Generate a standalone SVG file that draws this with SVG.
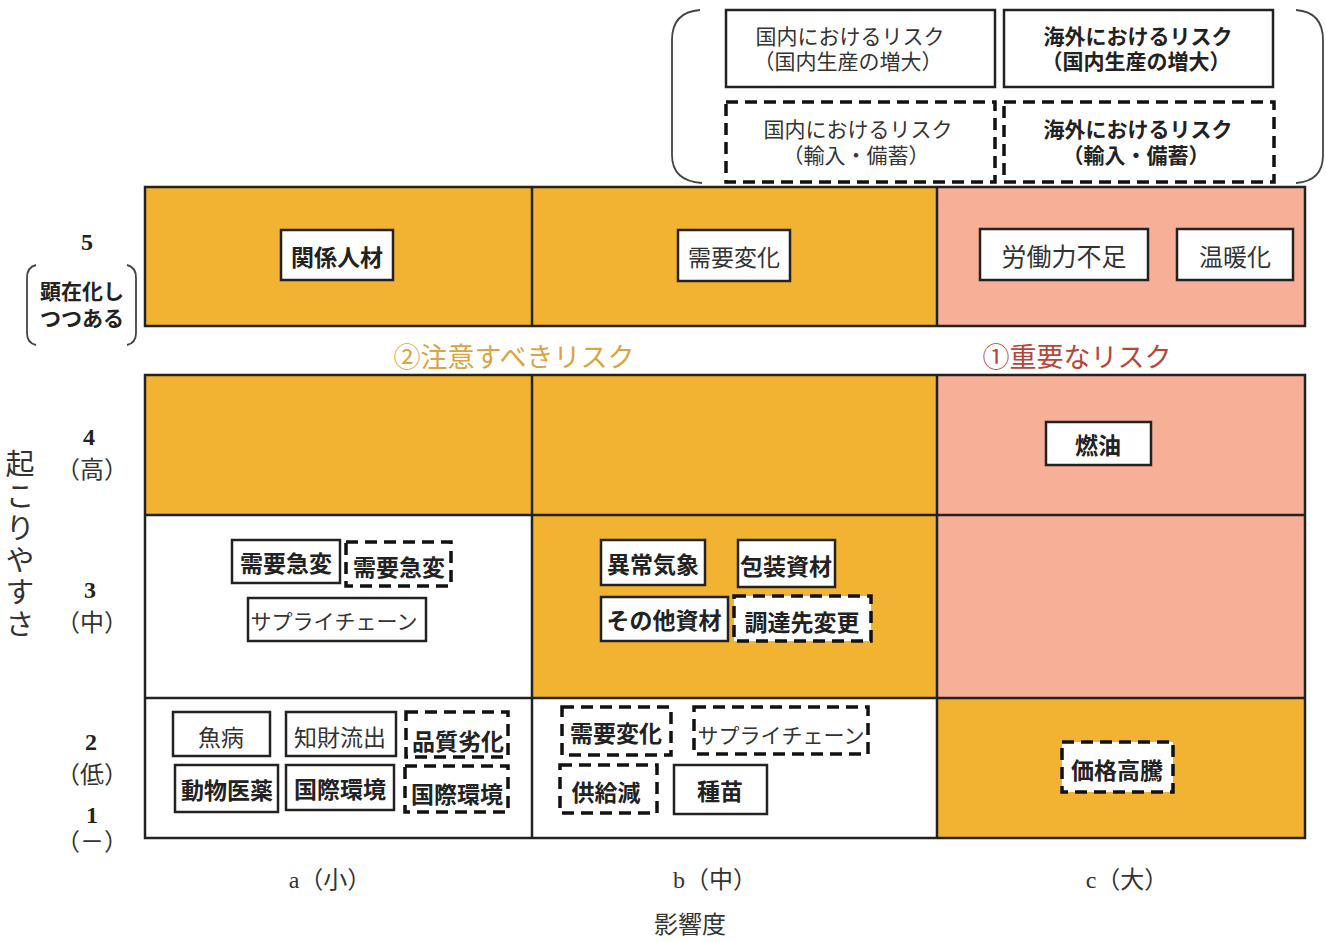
<svg xmlns="http://www.w3.org/2000/svg" width="1326" height="942" viewBox="0 0 1326 942">
<style>
text{font-family:"Noto Sans CJK JP","Liberation Serif",sans-serif;fill:#333;text-anchor:middle;dominant-baseline:central}
.lab{font-family:"Liberation Serif","Noto Sans CJK JP",serif;fill:#333;font-size:24px}
.b{font-weight:bold;fill:#222}
.n{font-size:23px}
.lg{font-size:21px}
.box{fill:#fff;stroke:#222;stroke-width:2.5}
.dash{fill:#fff;stroke:#111;stroke-width:3.5;stroke-dasharray:12 7}
.grid{stroke:#222;stroke-width:2.5}
.or{fill:#F3B332}
.pk{fill:#F7AF97}
.wh{fill:#fff}
.br{fill:none;stroke:#444;stroke-width:1.8}
</style>
<rect width="1326" height="942" fill="#fff"/>

<g id="legend">
<path class="br" d="M700 10 Q672 12 672 40 L672 155 Q672 181 702 183"/>
<path class="br" d="M1296 10 Q1323 12 1323 40 L1323 155 Q1323 181 1296 183"/>
<g id="lg1"><rect class="box" x="726" y="10" width="269" height="77"/><text class="lg"><tspan x="850" y="35">国内におけるリスク</tspan><tspan x="848" y="60">（国内生産の増大）</tspan></text></g>
<g id="lg2"><rect class="box" x="1004" y="10" width="269" height="77"/><text class="lg b"><tspan x="1138" y="35">海外におけるリスク</tspan><tspan x="1136" y="60">（国内生産の増大）</tspan></text></g>
<g id="lg3"><rect class="dash" x="726" y="102" width="269" height="80"/><text class="lg"><tspan x="858" y="128">国内におけるリスク</tspan><tspan x="856" y="154">（輸入・備蓄）</tspan></text></g>
<g id="lg4"><rect class="dash" x="1004" y="102" width="270" height="80"/><text class="lg b"><tspan x="1138" y="128">海外におけるリスク</tspan><tspan x="1136" y="154">（輸入・備蓄）</tspan></text></g>
</g>

<g id="cells">
<rect class="or" x="145" y="187" width="387" height="139"/>
<rect class="or" x="532" y="187" width="405" height="139"/>
<rect class="pk" x="937" y="187" width="368" height="139"/>
<rect class="or" x="145" y="375" width="387" height="140"/>
<rect class="or" x="532" y="375" width="405" height="140"/>
<rect class="pk" x="937" y="375" width="368" height="140"/>
<rect class="wh" x="145" y="515" width="387" height="183"/>
<rect class="or" x="532" y="515" width="405" height="183"/>
<rect class="pk" x="937" y="515" width="368" height="183"/>
<rect class="wh" x="145" y="698" width="387" height="140"/>
<rect class="wh" x="532" y="698" width="405" height="140"/>
<rect class="or" x="937" y="698" width="368" height="140"/>
</g>
<g id="gridlines" fill="none" class="grid">
<rect x="145" y="187" width="1160" height="139"/>
<line x1="532" y1="187" x2="532" y2="326"/>
<line x1="937" y1="187" x2="937" y2="326"/>
<rect x="145" y="375" width="1160" height="463"/>
<line x1="532" y1="375" x2="532" y2="838"/>
<line x1="937" y1="375" x2="937" y2="838"/>
<line x1="145" y1="515" x2="1305" y2="515"/>
<line x1="145" y1="698" x2="1305" y2="698"/>
</g>

<g id="axis-labels">
<text class="lab b" x="87" y="242">5</text>
<path class="br" d="M36 265 Q27 267 27 278 L27 333 Q27 343 36 345"/>
<path class="br" d="M127 265 Q136 267 136 278 L136 333 Q136 343 127 345"/>
<text class="b" font-size="21"><tspan x="82" y="290">顕在化し</tspan><tspan x="82" y="317">つつある</tspan></text>
<text class="lab b" x="89" y="437">4</text>
<text class="lab" x="92" y="470">（高）</text>
<text class="lab b" x="90" y="590">3</text>
<text class="lab" x="92" y="623">（中）</text>
<text class="lab b" x="91" y="742">2</text>
<text class="lab" x="92" y="775">（低）</text>
<text class="lab" font-size="22"><tspan class="b" x="92" y="815">1</tspan><tspan x="92" y="842">（－）</tspan></text>
<text font-size="29" x="20" y="545" style="writing-mode:vertical-rl;letter-spacing:3px">起こりやすさ</text>
<text class="lab" x="330" y="880">a（小）</text>
<text class="lab" x="715" y="880">b（中）</text>
<text class="lab" x="1127" y="880">c（大）</text>
<text class="lab" x="690" y="925" font-size="27">影響度</text>
<text x="514" y="355" font-size="27" style="fill:#D9A441">②注意すべきリスク</text>
<text x="1077" y="355" font-size="27" style="fill:#B5473A">①重要なリスク</text>
</g>

<g id="nodes">
<g id="n-kankei"><rect class="box" x="281" y="230" width="112" height="50"/><text class="n b" x="337" y="256">関係人材</text></g>
<g id="n-juyo5"><rect class="box" x="678" y="230" width="112" height="51"/><text class="n" x="734" y="256">需要変化</text></g>
<g id="n-rodo"><rect class="box" x="980" y="229" width="168" height="51"/><text x="1064" y="255" font-size="25">労働力不足</text></g>
<g id="n-ondan"><rect class="box" x="1177" y="229" width="116" height="51"/><text x="1235" y="255" font-size="24">温暖化</text></g>
<g id="n-nenyu"><rect class="box" x="1046" y="422" width="105" height="43"/><text class="n b" x="1098" y="444">燃油</text></g>

<g id="n-kyuhen1"><rect class="box" x="232" y="540" width="108" height="43"/><text class="n b" x="286" y="562">需要急変</text></g>
<g id="n-kyuhen2"><rect class="dash" x="346" y="542" width="105" height="44"/><text class="n b" x="399" y="566">需要急変</text></g>
<g id="n-supply3"><rect class="box" x="248" y="598" width="178" height="43"/><text x="334" y="620" font-size="21">サプライチェーン</text></g>
<g id="n-ijo"><rect class="box" x="601" y="540" width="104" height="45"/><text class="n b" x="653" y="563">異常気象</text></g>
<g id="n-hoso"><rect class="box" x="738" y="540" width="97" height="47"/><text class="n b" x="786" y="565">包装資材</text></g>
<g id="n-sonota"><rect class="box" x="601" y="597" width="127" height="44"/><text class="n b" x="664" y="619">その他資材</text></g>
<g id="n-chotatsu"><rect class="dash" x="734" y="596" width="137" height="45"/><text class="n b" x="802" y="621">調達先変更</text></g>

<g id="n-gyobyo"><rect class="box" x="173" y="712" width="97" height="44"/><text class="n" x="221" y="736">魚病</text></g>
<g id="n-chizai"><rect class="box" x="286" y="712" width="110" height="44"/><text class="n" x="340" y="736">知財流出</text></g>
<g id="n-hinshitsu"><rect class="dash" x="406" y="712" width="102" height="45"/><text class="n b" x="458" y="740">品質劣化</text></g>
<g id="n-dobutsu"><rect class="box" x="175" y="765" width="103" height="47"/><text class="n b" x="227" y="789">動物医薬</text></g>
<g id="n-kokusai1"><rect class="box" x="286" y="765" width="108" height="45"/><text class="n b" x="340" y="788">国際環境</text></g>
<g id="n-kokusai2"><rect class="dash" x="405" y="766" width="103" height="46"/><text class="n b" x="457" y="793">国際環境</text></g>
<g id="n-juyo2"><rect class="dash" x="562" y="707" width="109" height="48"/><text class="n b" x="616" y="732">需要変化</text></g>
<g id="n-supply2"><rect class="dash" x="694" y="707" width="174" height="47"/><text x="781" y="734" font-size="21">サプライチェーン</text></g>
<g id="n-kyokyu"><rect class="dash" x="560" y="765" width="97" height="48"/><text class="n b" x="606" y="791">供給減</text></g>
<g id="n-shubyo"><rect class="box" x="674" y="765" width="93" height="49"/><text class="n b" x="720" y="790">種苗</text></g>
<g id="n-kakaku"><rect class="dash" x="1062" y="742" width="111" height="50"/><text class="n b" x="1117" y="769">価格高騰</text></g>
</g>
<g id="connectors"/>
</svg>
